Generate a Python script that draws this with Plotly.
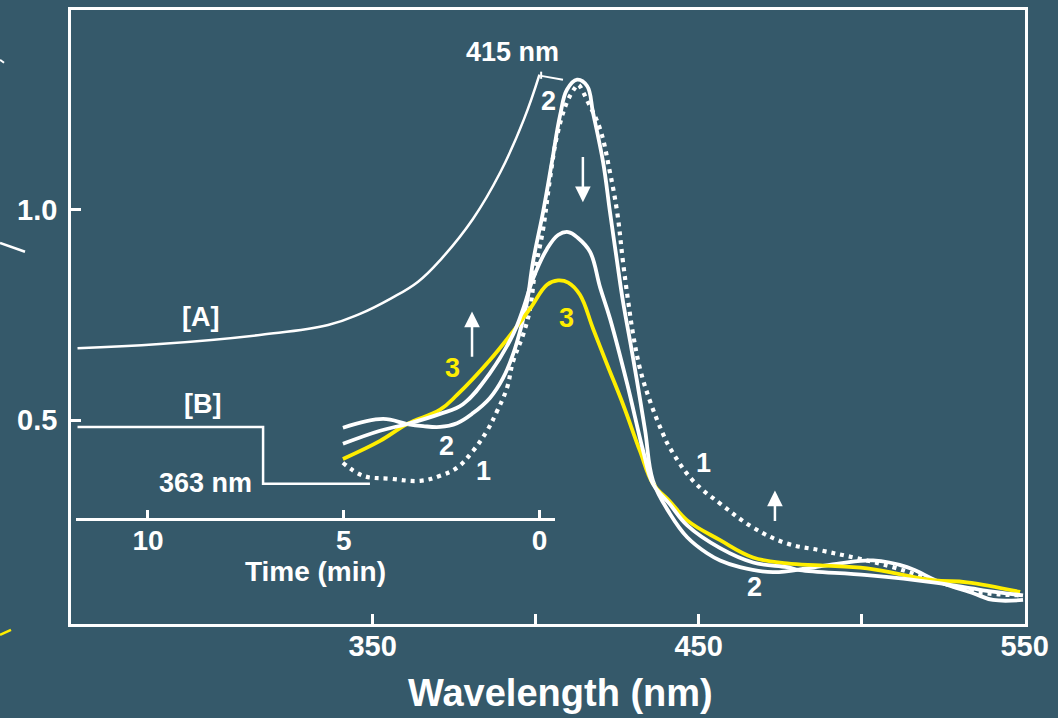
import plotly.graph_objects as go

BG = "#35596a"
WHITE = "#ffffff"
YELLOW = "#ffee00"
FONT = "Liberation Sans"

# ---- spectra: wavelength (nm) / absorbance ----
wl_1 = [340.9, 347.1, 355.4, 364.6, 370.7, 375.9, 380.8, 385.1, 388.2, 391.2, 393.1, 396.2,
        398.3, 399.8, 402.3, 404.4, 406.6, 409.6, 412.1, 413.0, 416.1, 419.8, 422.8, 425.0,
        426.8, 428.4, 429.9, 432.0, 435.1, 439.1, 441.2, 448.3, 456.6, 466.7, 477.1, 487.3,
        498.6, 509.6, 521.9, 535.4, 548.6]
abs_1 = [0.399, 0.368, 0.361, 0.356, 0.368, 0.387, 0.427, 0.475, 0.522, 0.576, 0.640, 0.704,
         0.765, 0.853, 0.954, 1.073, 1.177, 1.255, 1.290, 1.297, 1.255, 1.191, 1.089, 0.995,
         0.876, 0.782, 0.704, 0.623, 0.545, 0.467, 0.434, 0.356, 0.302, 0.245, 0.207, 0.191,
         0.172, 0.151, 0.120, 0.092, 0.084]

wl_2 = [340.9, 353.2, 360.6, 365.5, 370.7, 375.9, 380.8, 386.0, 390.0, 393.1, 395.8, 397.4,
        399.2, 402.3, 405.0, 407.5, 409.6, 412.7, 415.8, 417.6, 420.7, 422.8, 425.0, 426.8,
        429.0, 431.1, 433.6, 436.0, 441.2, 446.5, 452.6, 456.6, 462.7, 472.8, 483.3, 493.4,
        503.5, 513.9, 524.1, 534.2, 540.3, 549.5]
abs_2 = [0.482, 0.503, 0.491, 0.486, 0.484, 0.493, 0.517, 0.553, 0.600, 0.657, 0.728, 0.782,
         0.876, 0.995, 1.113, 1.224, 1.285, 1.309, 1.294, 1.231, 1.113, 0.995, 0.876, 0.782,
         0.687, 0.593, 0.475, 0.356, 0.278, 0.222, 0.184, 0.167, 0.151, 0.139, 0.148, 0.160,
         0.167, 0.151, 0.115, 0.089, 0.073, 0.073]

wl_mid = [340.9, 352.3, 360.6, 370.7, 377.7, 386.0, 393.1, 396.2, 399.2, 403.5, 406.9, 410.0,
          413.0, 416.7, 419.8, 422.8, 428.1, 433.0, 436.0, 441.2, 446.5, 456.6, 466.7, 477.1,
          481.1, 501.7, 521.9, 537.3, 549.5]
abs_mid = [0.444, 0.475, 0.491, 0.515, 0.538, 0.612, 0.704, 0.765, 0.836, 0.907, 0.940, 0.947,
           0.933, 0.900, 0.815, 0.742, 0.586, 0.427, 0.349, 0.300, 0.250, 0.196, 0.162, 0.151,
           0.144, 0.132, 0.115, 0.096, 0.084]

wl_3 = [340.9, 352.3, 360.6, 370.7, 375.9, 386.0, 393.1, 398.3, 403.5, 406.9, 410.0, 413.6,
        417.6, 421.9, 426.8, 432.0, 436.0, 441.2, 446.5, 456.6, 466.7, 477.1, 487.3, 501.7,
        521.9, 532.3, 548.6]
abs_3 = [0.408, 0.451, 0.491, 0.525, 0.560, 0.643, 0.711, 0.765, 0.822, 0.832, 0.827, 0.798,
         0.718, 0.633, 0.538, 0.427, 0.349, 0.307, 0.262, 0.215, 0.174, 0.160, 0.155, 0.148,
         0.120, 0.115, 0.092]

# ---- inset time courses: time (min) / absorbance ----
t_A = [11.8, 9.7, 7.1, 5.4, 4.6, 3.8, 3.1, 2.5, 1.7, 1.0, 0.4, 0.0]
abs_A = [0.671, 0.681, 0.703, 0.726, 0.752, 0.789, 0.829, 0.884, 0.978, 1.089, 1.214, 1.321]
t_B = [11.8, 7.06, 4.33]
abs_B = [0.484, 0.349, 0.349]

x_ticks = [350, 400, 450, 500, 550]
x_ticktext = ["350", "", "450", "", "550"]
y_ticks = [0.5, 1.0]
y_ticktext = ["0.5", "1.0"]
t_ticks = [10, 5, 0]
t_ticktext = ["10", "5", "0"]

fig = go.Figure()
lw = 3.8
sm = 1.1
fig.add_trace(go.Scatter(x=wl_1, y=abs_1, mode="lines", line=dict(color=WHITE, width=4.2, dash="4px,5px", shape="spline", smoothing=sm)))
fig.add_trace(go.Scatter(x=wl_2, y=abs_2, mode="lines", line=dict(color=WHITE, width=lw, shape="spline", smoothing=sm)))
fig.add_trace(go.Scatter(x=wl_3, y=abs_3, mode="lines", line=dict(color=YELLOW, width=lw, shape="spline", smoothing=sm)))
fig.add_trace(go.Scatter(x=wl_mid, y=abs_mid, mode="lines", line=dict(color=WHITE, width=lw, shape="spline", smoothing=sm)))
fig.add_trace(go.Scatter(x=t_A, y=abs_A, xaxis="x2", yaxis="y", mode="lines", line=dict(color=WHITE, width=2.5, shape="spline", smoothing=1.2)))
fig.add_trace(go.Scatter(x=t_B, y=abs_B, xaxis="x2", yaxis="y", mode="lines", line=dict(color=WHITE, width=2.5, shape="hv")))

lab = dict(family=FONT, size=27, color=WHITE, weight="bold")
laby = dict(family=FONT, size=27, color=YELLOW, weight="bold")
ann = []
def txt(x, y, s, f=lab, xref="x"):
    ann.append(dict(x=x, y=y, xref=xref, yref="y", text=s, showarrow=False, font=f, xanchor="center", yanchor="middle"))

txt(392.8, 1.375, "415 nm")
txt(403.8, 1.259, "2")
txt(409.6, 0.744, "3", laby)
txt(374.4, 0.623, "3", laby)
txt(372.8, 0.439, "2")
txt(383.9, 0.380, "1")
txt(451.4, 0.399, "1")
txt(467.0, 0.103, "2")
txt(8.65, 0.746, "[A]", xref="x2")
txt(8.60, 0.538, "[B]", xref="x2")
txt(8.52, 0.352, "363 nm", xref="x2")

def arrow(x, y0, y1):
    ann.append(dict(x=x, y=y1, ax=x, ay=y0, xref="x", yref="y", axref="x", ayref="y", text="",
                    showarrow=True, arrowhead=2, arrowsize=1.25, arrowwidth=2.5, arrowcolor=WHITE))

arrow(414.5, 1.129, 1.018)
arrow(380.5, 0.647, 0.758)
arrow(473.4, 0.257, 0.333)

ann.append(dict(x=0.5136, y=-0.112, xref="paper", yref="paper", text="Wavelength (nm)", showarrow=False,
                font=dict(family=FONT, size=38, color=WHITE, weight="bold"), xanchor="center", yanchor="middle"))

shapes = [
    dict(type="line", xref="x", yref="y", x0=401.7, y0=1.318, x1=408.4, y1=1.309, line=dict(color=WHITE, width=2)),
    dict(type="line", xref="x", yref="y", x0=401.7, y0=1.328, x1=401.7, y1=1.311, line=dict(color=WHITE, width=2)),
    dict(type="line", xref="paper", yref="paper", x0=-0.0744, y0=0.6207, x1=-0.0482, y1=0.6062, line=dict(color=WHITE, width=2.5)),
    dict(type="line", xref="paper", yref="paper", x0=-0.0744, y0=-0.0178, x1=-0.0629, y1=-0.0097, line=dict(color=YELLOW, width=2.5)),
    dict(type="line", xref="paper", yref="paper", x0=-0.0744, y0=0.919, x1=-0.0702, y1=0.914, line=dict(color=WHITE, width=2)),
]

tickf = dict(family=FONT, size=29, color=WHITE, weight="bold")
fig.update_layout(
    width=1058, height=718,
    margin=dict(l=71, r=33, t=7, b=94),
    paper_bgcolor=BG, plot_bgcolor="rgba(0,0,0,0)",
    showlegend=False,
    font=dict(family=FONT, color=WHITE, weight="bold"),
    annotations=ann, shapes=shapes,
    xaxis=dict(range=[257.5, 550.1], showgrid=False, zeroline=False, showline=True, linecolor=WHITE,
               linewidth=2.5, mirror=True, ticks="inside", ticklen=10, tickwidth=2.5, tickcolor=WHITE,
               tickvals=x_ticks, ticktext=x_ticktext, tickfont=tickf, ticklabelstandoff=-6),
    yaxis=dict(range=[0.0159, 1.4745], showgrid=False, zeroline=False, showline=True, linecolor=WHITE,
               linewidth=2.5, mirror=True, ticks="inside", ticklen=10, tickwidth=2.5, tickcolor=WHITE,
               tickvals=y_ticks, ticktext=y_ticktext, tickfont=tickf, ticklabelstandoff=5),
    xaxis2=dict(domain=[0.0052, 0.5073], anchor="free", position=0.1702, range=[11.84, -0.396],
                showgrid=False, zeroline=False, showline=True, linecolor=WHITE, linewidth=2.5,
                ticks="inside", ticklen=9, tickwidth=2.5, tickcolor=WHITE,
                tickvals=t_ticks, ticktext=t_ticktext, ticklabelstandoff=-5,
                tickfont=dict(family=FONT, size=28, color=WHITE, weight="bold"),
                title=dict(text="Time (min)", font=dict(family=FONT, size=28, color=WHITE, weight="bold"), standoff=2)),
)

fig.write_html("out.html", config={"displayModeBar": False},
               post_script="document.body.style.margin='0';document.body.style.overflow='hidden';document.body.style.background='" + BG + "';")
